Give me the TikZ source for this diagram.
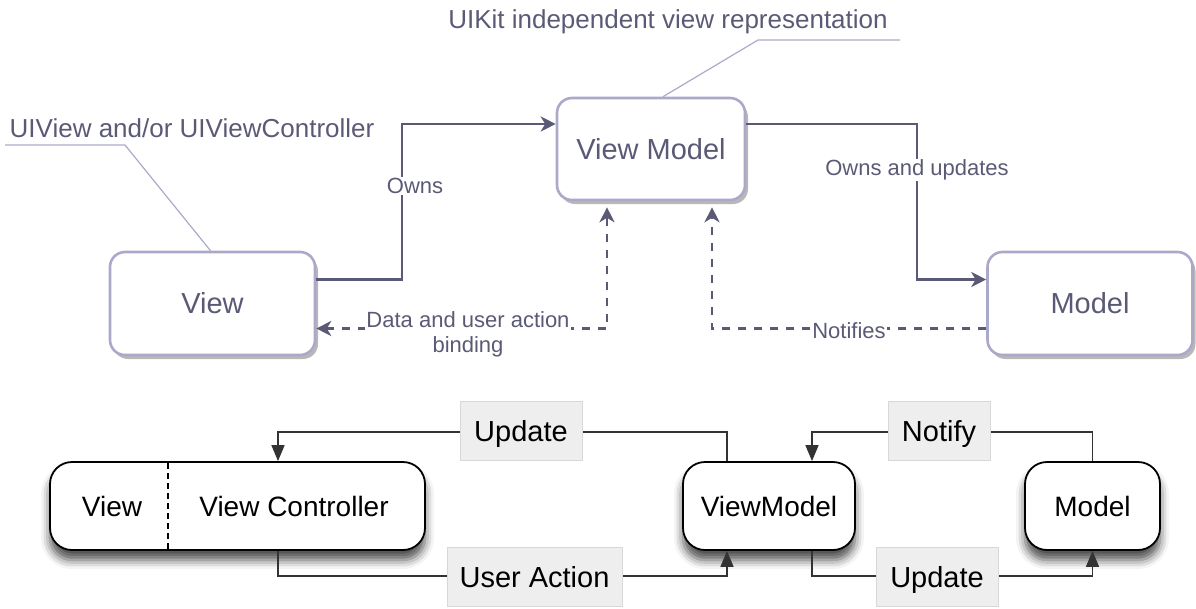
\documentclass[tikz,border=0pt]{standalone}
\usepackage{fontspec}
\setmainfont{Liberation Sans}
\usetikzlibrary{arrows.meta,shadows,shadows.blur}

\definecolor{ink}{HTML}{5B5A76}
\definecolor{frame}{HTML}{ABA9C9}
\definecolor{callout}{HTML}{ABA9C9}
\definecolor{tagfill}{HTML}{EEEEEE}
\definecolor{tagline}{HTML}{D8D8D8}

\tikzset{
  topbox/.style={draw=frame, line width=2.6pt, rounded corners=15pt, fill=white,
    text=ink, font=\fontsize{29}{33}\selectfont,
    drop shadow={shadow xshift=3pt, shadow yshift=-4pt, fill=black!28, opacity=1}},
  conn/.style={draw=ink, line width=2.6pt},
  tip/.tip={Stealth[length=15pt,width=15pt,inset=4.5pt]},
  solidarrow/.style={conn, -tip},
  dashed link/.style={conn, line width=2.4pt, dash pattern=on 8pt off 8pt},
  toplabel/.style={text=ink, font=\fontsize{22}{25}\selectfont, fill=white, inner sep=1pt},
  calltext/.style={text=ink, font=\fontsize{26}{30}\selectfont, inner sep=0pt},
  callline/.style={draw=callout, line width=1.2pt},
  flowbox/.style={draw=black, line width=1.8pt, rounded corners=22pt, fill=white,
    font=\fontsize{28}{32}\selectfont,
    blur shadow={shadow xshift=0pt, shadow yshift=-10pt, shadow blur radius=9pt, shadow opacity=70}},
  flow/.style={draw=black!80, line width=1.6pt},
  flowarrow/.style={flow, -{Triangle[length=16pt,width=13pt]}},
  tag/.style={fill=tagfill, draw=tagline, line width=0.6pt, font=\fontsize{29}{33}\selectfont,
    text height=21pt, text depth=0pt, inner ysep=0pt,
    minimum height=59pt, inner xsep=0pt}
}

\begin{document}
\begin{tikzpicture}[x=1pt, y=-1pt]
\useasboundingbox (0,0) rectangle (1196,608);

% ---------- upper diagram ----------
\node[topbox, minimum width=188pt, minimum height=102pt] (vm) at (651,149) {View Model};
\node[topbox, minimum width=205pt, minimum height=103pt] (view) at (212.5,303.5) {View};
\node[topbox, minimum width=205pt, minimum height=103pt] (model) at (1090,303.5) {Model};

% callouts
\node[calltext] (uikit) at (668,22) {UIKit independent view representation};
\coordinate (uikitbend) at (758,40);
\coordinate (uikitend) at (900,40);
\draw[callline] ([xshift=12pt]vm.north) -- (uikitbend) -- (uikitend);

\node[calltext] (uiview) at (192,128) {UIView and/or UIViewController};
\coordinate (uiviewbend) at (125,145);
\coordinate (uiviewend) at (5,145);
\draw[callline] ([xshift=-2pt]view.north) -- (uiviewbend) -- (uiviewend);

% ownership links
\draw[solidarrow] ([yshift=24pt]view.east) -| (402,200) |- ([yshift=25pt]vm.west);
\node[toplabel] (owns) at (415,186) {Owns};

\draw[solidarrow] ([yshift=25pt]vm.east) -| (917,220) |- ([yshift=24pt]model.west);
\node[toplabel] (ownsupd) at (917,170) {Owns and updates};

% bindings
\draw[dashed link, tip-tip] ([yshift=-25pt]view.east) -| ([xshift=-44pt,yshift=-6pt]vm.south);
\node[toplabel, align=center, inner sep=1pt, anchor=north] (binding) at (468,310)
  {Data and user action\\binding};

\draw[dashed link, -tip] ([yshift=-25pt]model.west) -| ([xshift=61pt,yshift=-6pt]vm.south);
\node[toplabel] (notifies) at (849,331) {Notifies};

% ---------- lower diagram ----------
\node[flowbox, minimum width=375pt, minimum height=88pt] (vvc) at (237.5,506) {};
\node[font=\fontsize{28}{32}\selectfont] (vlabel) at (112,506) {View};
\node[font=\fontsize{28}{32}\selectfont] (vclabel) at (294,506) {View Controller};
\draw[black, line width=1.2pt, dash pattern=on 6pt off 4pt] (168,463) -- (168,549);

\node[flowbox, minimum width=172pt, minimum height=88pt] (vmb) at (769,506) {ViewModel};
\node[flowbox, minimum width=135pt, minimum height=88pt] (mb) at (1092.5,506) {Model};

\draw[flowarrow] ([xshift=-42pt]vmb.north) |- (600,432) -| ([xshift=40.5pt]vvc.north);
\node[tag, minimum width=122pt] (tupd) at (521,431) {Update};

\draw[flowarrow] (mb.north) |- (950,432) -| ([xshift=43pt]vmb.north);
\node[tag, minimum width=102pt] (tnot) at (939,431) {Notify};

\draw[flowarrow] ([xshift=40.5pt]vvc.south) |- (600,576) -| ([xshift=-42pt]vmb.south);
\node[tag, minimum width=175pt] (tact) at (534.5,577) {User Action};

\draw[flowarrow] ([xshift=43pt]vmb.south) |- (950,576) -| (mb.south);
\node[tag, minimum width=122pt] (tupd2) at (937,577) {Update};
\end{tikzpicture}
\end{document}
